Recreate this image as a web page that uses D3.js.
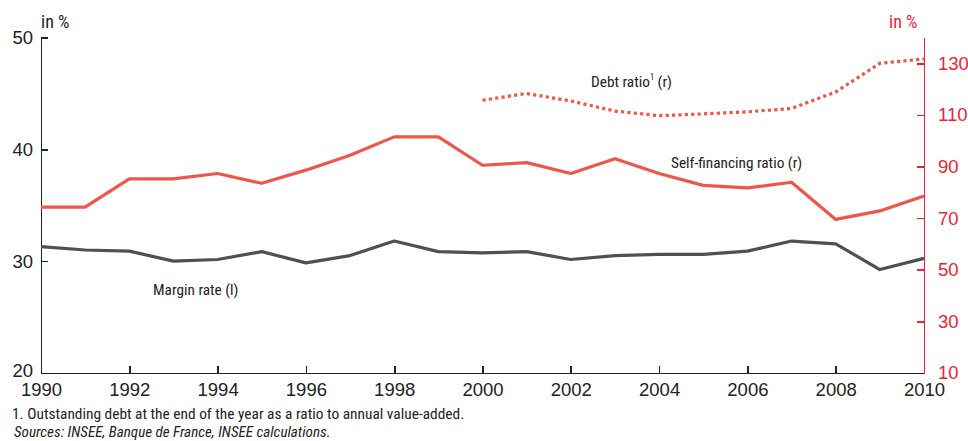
<!DOCTYPE html>
<html>
<head>
<meta charset="utf-8">
<script src="https://cdn.jsdelivr.net/npm/d3@7"></script>
<style>
  body { margin: 0; background: #fff; }
  svg { display: block; font-family: "Roboto Condensed", "Liberation Sans Narrow", "Arial Narrow", sans-serif; }
  .axis text { font-size: 18.5px; }
  .axis path, .axis line { shape-rendering: crispEdges; }
</style>
</head>
<body>
<svg id="chart" width="968" height="441"></svg>
<script>
const years = d3.range(1990, 2011);
const marginRate = [31.3, 31.0, 30.9, 30.0, 30.15, 30.85, 29.85, 30.5, 31.8, 30.85, 30.75,
  30.85, 30.15, 30.5, 30.6, 30.6, 30.9, 31.8, 31.55, 29.25, 30.25];
const selfFinancing = [74.3, 74.3, 85.2, 85.2, 87.3, 83.5, 88.6, 94.4, 101.5, 101.5, 90.5,
  91.5, 87.3, 93.0, 87.3, 82.7, 81.7, 83.9, 69.5, 72.8, 78.6];
const debtYears = d3.range(2000, 2011);
const debtRatio = [115.7, 118.3, 115.4, 111.5, 109.7, 110.4, 111.2, 112.5, 118.9, 130.0, 131.7];
const leftTicks = [20, 30, 40, 50];
const rightTicks = [10, 30, 50, 70, 90, 110, 130];
const xTicks = d3.range(1990, 2011, 2);

const red = "#f05548";
const axisRed = "#ee2233";
const grey = "#505052";
const ink = "#222222";

const svg = d3.select("#chart");
const plotLeft = 41, plotRight = 924, plotTop = 37.5, plotBottom = 373;

const x = d3.scaleLinear().domain([1990, 2010]).range([plotLeft, plotRight]);
const yL = d3.scaleLinear().domain([20, 50]).range([plotBottom, plotTop]);
const yR = d3.scaleLinear().domain([10, 140]).range([plotBottom, plotTop]);

// axes
const gx = svg.append("g").attr("class", "axis")
  .attr("transform", `translate(0,${plotBottom})`)
  .call(d3.axisBottom(x).tickValues(xTicks).tickFormat(d3.format("d"))
    .tickSizeInner(-7).tickSizeOuter(0).tickPadding(10));

const gl = svg.append("g").attr("class", "axis")
  .attr("transform", `translate(${plotLeft},0)`)
  .call(d3.axisLeft(yL).tickValues(leftTicks).tickSizeInner(-7).tickSizeOuter(0).tickPadding(8));
gl.select(".tick:first-of-type line").remove();
gl.select(".tick:first-of-type text").attr("dy", "0.2em");

const gr = svg.append("g").attr("class", "axis")
  .attr("transform", `translate(${plotRight},0)`)
  .call(d3.axisRight(yR).tickValues(rightTicks).tickSizeInner(-7).tickSizeOuter(0).tickPadding(14));
gr.select(".tick:first-of-type line").remove();

[gx, gl].forEach(g => {
  g.selectAll("path, line").attr("stroke", ink).attr("stroke-width", 1.6);
  g.selectAll("text").attr("fill", ink);
});
gr.selectAll("path, line").attr("stroke", axisRed).attr("stroke-width", 1.6);
gr.selectAll("text").attr("fill", axisRed);

// lines
const lineL = d3.line().x((d, i) => x(years[i])).y(d => yL(d));
const lineR = d3.line().x((d, i) => x(years[i])).y(d => yR(d));
const lineD = d3.line().x((d, i) => x(debtYears[i])).y(d => yR(d));

svg.append("path").datum(marginRate).attr("d", lineL)
  .attr("fill", "none").attr("stroke", grey).attr("stroke-width", 3.2).attr("stroke-linejoin", "round");
svg.append("path").datum(selfFinancing).attr("d", lineR)
  .attr("fill", "none").attr("stroke", red).attr("stroke-width", 3.2).attr("stroke-linejoin", "round");
svg.append("path").datum(debtRatio).attr("d", lineD)
  .attr("fill", "none").attr("stroke", red).attr("stroke-width", 3.2).attr("stroke-dasharray", "3.2,3.2");

// unit labels
svg.append("text").attr("x", 41).attr("y", 28).attr("font-size", 18).attr("fill", ink).text("in %");
svg.append("text").attr("x", 889).attr("y", 28).attr("font-size", 18).attr("fill", axisRed).text("in %");

// series labels
const lab = svg.append("g").attr("font-size", 15.3).attr("fill", ink);
const debt = lab.append("text").attr("x", 591).attr("y", 87).text("Debt ratio");
debt.append("tspan").attr("font-size", 8.5).attr("dy", -7).text("1");
debt.append("tspan").attr("dy", 7).text(" (r)");
lab.append("text").attr("x", 671).attr("y", 168).text("Self-financing ratio (r)");
lab.append("text").attr("x", 153).attr("y", 295).text("Margin rate (l)");

// notes
svg.append("text").attr("x", 12).attr("y", 419).attr("font-size", 15.4).attr("fill", ink)
  .text("1. Outstanding debt at the end of the year as a ratio to annual value-added.");
svg.append("text").attr("x", 14).attr("y", 437).attr("font-size", 15.1).attr("font-style", "italic").attr("fill", ink)
  .text("Sources: INSEE, Banque de France, INSEE calculations.");
</script>
</body>
</html>
